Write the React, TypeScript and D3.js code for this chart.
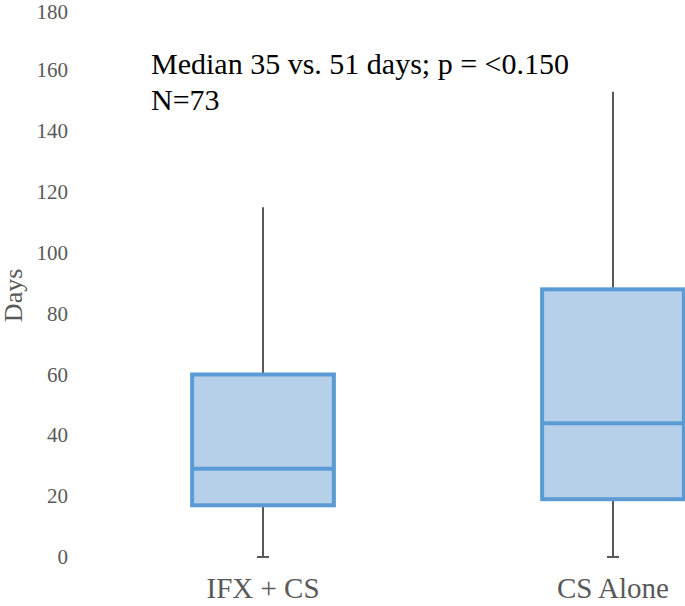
import { useEffect, useRef } from 'react';
import * as d3 from 'd3';

// 그룹 및 박스플롯 통계
const groups = ['IFX + CS', 'CS Alone'];
const whiskerLow = [0, 0];
const q1 = [17, 19];
const medians = [29, 44];
const q3 = [60, 88];
const whiskerHigh = [115, 153];
const yTicks = [0, 20, 40, 60, 80, 100, 120, 140, 160, 180];
const annotation = ['Median 35 vs. 51 days; p = <0.150', 'N=73'];

const W = 685;
const H = 606;

export default function App() {
  const svgRef = useRef<SVGSVGElement>(null);

  useEffect(() => {
    document.body.style.margin = '0';
    if (!svgRef.current) return;
    const svg = d3.select(svgRef.current);
    svg.selectAll('*').remove();

    const yScale = d3.scaleLinear().domain([0, 180]).range([557, 9.5]);
    const xScale = d3.scaleBand<string>().domain(groups).range([88, 788]).padding(0);
    const boxW = xScale.bandwidth() * 0.405;
    const blue = '#5b9bd5';
    const fill = '#b7d0ea';
    const gray = '#595959';

    // ── Y축 눈금 라벨 (맨 위 라벨은 잘리지 않게 기준선 고정) ──
    svg.append('g')
      .selectAll('text')
      .data(yTicks)
      .enter()
      .append('text')
      .attr('x', 68)
      .attr('y', (d) => Math.max(yScale(d) + 7, 19))
      .attr('text-anchor', 'end')
      .attr('fill', gray)
      .style('font-size', '21px')
      .text((d) => d);

    // Y축 라벨
    svg.append('text')
      .attr('transform', `translate(22,${yScale(86)}) rotate(-90)`)
      .attr('text-anchor', 'middle')
      .attr('fill', gray)
      .style('font-size', '26px')
      .text('Days');

    const data = groups.map((g, i) => ({
      g, lo: whiskerLow[i], q1: q1[i], med: medians[i], q3: q3[i], hi: whiskerHigh[i],
    }));

    const box = svg.append('g')
      .selectAll('g')
      .data(data)
      .enter()
      .append('g')
      .attr('transform', (d) => `translate(${(xScale(d.g) ?? 0) + xScale.bandwidth() / 2},0)`);

    // 수염
    box.append('line')
      .attr('x1', 0).attr('x2', 0)
      .attr('y1', (d) => yScale(d.q3)).attr('y2', (d) => yScale(d.hi))
      .attr('stroke', gray).attr('stroke-width', 2);
    box.append('line')
      .attr('x1', 0).attr('x2', 0)
      .attr('y1', (d) => yScale(d.q1)).attr('y2', (d) => yScale(d.lo))
      .attr('stroke', gray).attr('stroke-width', 2);
    box.append('line')
      .attr('x1', -6).attr('x2', 6)
      .attr('y1', (d) => yScale(d.lo)).attr('y2', (d) => yScale(d.lo))
      .attr('stroke', gray).attr('stroke-width', 2);

    // 박스
    box.append('rect')
      .attr('x', -boxW / 2)
      .attr('width', boxW)
      .attr('y', (d) => yScale(d.q3))
      .attr('height', (d) => yScale(d.q1) - yScale(d.q3))
      .attr('fill', fill)
      .attr('stroke', blue)
      .attr('stroke-width', 4);

    // 중앙값
    box.append('line')
      .attr('x1', -boxW / 2).attr('x2', boxW / 2)
      .attr('y1', (d) => yScale(d.med)).attr('y2', (d) => yScale(d.med))
      .attr('stroke', blue).attr('stroke-width', 4);

    // 카테고리 라벨
    box.append('text')
      .attr('y', 598)
      .attr('text-anchor', 'middle')
      .attr('fill', gray)
      .style('font-size', '29px')
      .text((d) => d.g);

    // 주석
    svg.append('g')
      .selectAll('text')
      .data(annotation)
      .enter()
      .append('text')
      .attr('x', 151)
      .attr('y', (_, i) => 74 + i * 36)
      .attr('fill', '#000')
      .style('font-size', '30px')
      .text((d) => d);
  }, []);

  return (
    <svg
      ref={svgRef}
      width={W}
      height={H}
      style={{ display: 'block', background: '#fff', fontFamily: "'Liberation Serif', 'Times New Roman', serif" }}
    />
  );
}
